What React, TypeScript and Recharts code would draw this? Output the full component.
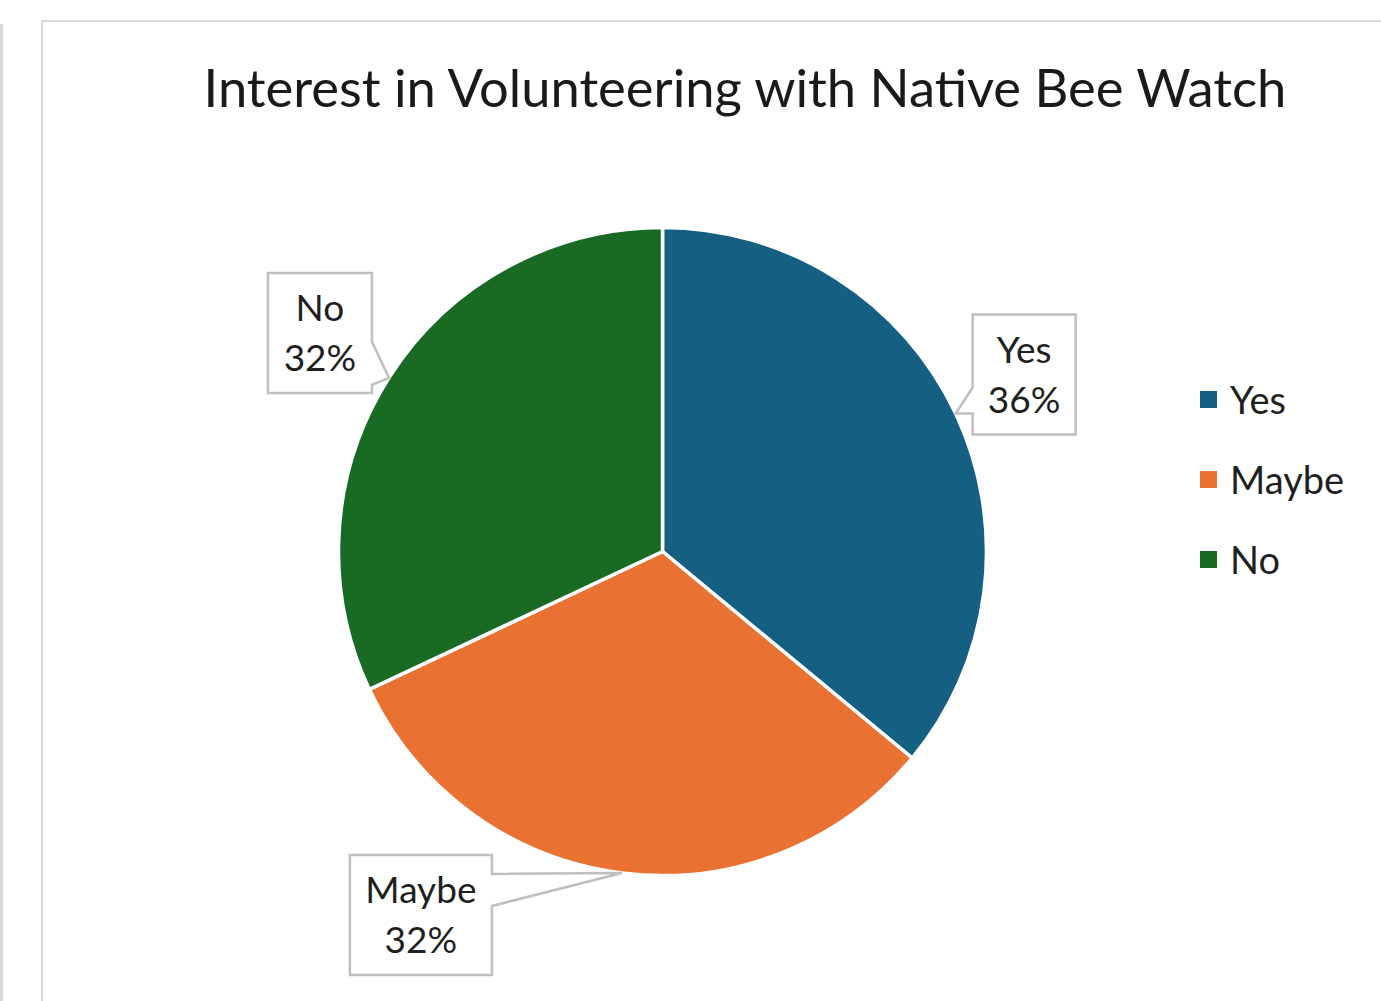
import React from "react";
import { PieChart, Pie, Cell, Legend } from "recharts";

const answers = ["Yes", "Maybe", "No"];
const shares = [36, 32, 32];
const colors = ["#156082", "#E97132", "#196B24"];

const volunteerData = answers.map((answer, i) => ({ name: answer, value: shares[i] }));

// callout box placement, relative to the point on the rim at midAngle
const callouts = [
  { x0: 17, x1: 120, y0: -99, y1: 21, side: "left", p0: -26, p1: 0 },
  { x0: -272, x1: -130, y0: -18, y1: 102, side: "right", p0: 1, p1: 33 },
  { x0: -121, x1: -17, y0: -105, y1: 15, side: "right", p0: -36, p1: 7 },
];

const FONT = "Lato, 'Noto Sans', sans-serif";
const RADIAN = Math.PI / 180;

const renderCallout = (props: any) => {
  const { cx, cy, midAngle, outerRadius, index, name, percent } = props;
  const tx = cx + outerRadius * Math.cos(-midAngle * RADIAN);
  const ty = cy + outerRadius * Math.sin(-midAngle * RADIAN);
  const c = callouts[index];
  const L = tx + c.x0;
  const R = tx + c.x1;
  const T = ty + c.y0;
  const B = ty + c.y1;
  let d = "";
  if (c.side === "left") {
    d = `M${L},${T} L${R},${T} L${R},${B} L${L},${B} L${L},${ty + c.p1} L${tx},${ty} L${L},${ty + c.p0} Z`;
  } else {
    d = `M${L},${T} L${R},${T} L${R},${ty + c.p0} L${tx},${ty} L${R},${ty + c.p1} L${R},${B} L${L},${B} Z`;
  }
  const mx = (L + R) / 2;
  return (
    <g>
      <path d={d} fill="#fff" stroke="#bfbfbf" strokeWidth={2.5} />
      <text x={mx} y={T + 48} textAnchor="middle" fill="#1f1f1f" fontSize={37} fontFamily={FONT}>
        {name}
      </text>
      <text x={mx} y={T + 98} textAnchor="middle" fill="#1f1f1f" fontSize={37} fontFamily={FONT}>
        {`${Math.round(percent * 100)}%`}
      </text>
    </g>
  );
};

// keep the legend in series order
const renderLegend = () => (
  <div>
    {answers.map((answer, i) => (
      <div
        key={answer}
        style={{ display: "flex", alignItems: "center", height: 80, fontFamily: FONT, fontSize: 38, color: "#1f1f1f" }}
      >
        <span style={{ display: "inline-block", width: 17, height: 17, background: colors[i], marginRight: 13 }} />
        {answer}
      </div>
    ))}
  </div>
);

export default function App() {
  return (
    <div style={{ position: "absolute", left: 0, top: 0, width: 1381, height: 1001, background: "#fff", overflow: "hidden" }}>
      <div style={{ position: "absolute", left: 0, top: 24, width: 3, height: 1001, background: "#d9d9d9" }} />
      <div
        style={{
          position: "absolute",
          left: 41,
          top: 20,
          width: 1400,
          height: 1100,
          border: "2px solid #d9d9d9",
        }}
      />
      <div
        style={{
          position: "absolute",
          left: 0,
          top: 55,
          width: 1490,
          textAlign: "center",
          fontFamily: FONT,
          fontSize: 52.5,
          color: "#1a1a1a",
          whiteSpace: "nowrap",
        }}
      >
        Interest in Volunteering with Native Bee Watch
      </div>
      <div style={{ position: "absolute", left: 0, top: 0 }}>
        <PieChart width={1381} height={1001} margin={{ top: 0, right: 0, bottom: 0, left: 0 }}>
          <Pie
            data={volunteerData}
            dataKey="value"
            nameKey="name"
            cx={662.5}
            cy={551.5}
            outerRadius={324}
            startAngle={90}
            endAngle={-270}
            stroke="#ffffff"
            strokeWidth={3.5}
            labelLine={false}
            label={renderCallout}
            isAnimationActive={false}
          >
            {volunteerData.map((entry, i) => (
              <Cell key={entry.name} fill={colors[i]} />
            ))}
          </Pie>
          <Legend
            layout="vertical"
            content={renderLegend}
            wrapperStyle={{ position: "absolute", left: 1200, top: 359, width: 181 }}
          />
        </PieChart>
      </div>
    </div>
  );
}
